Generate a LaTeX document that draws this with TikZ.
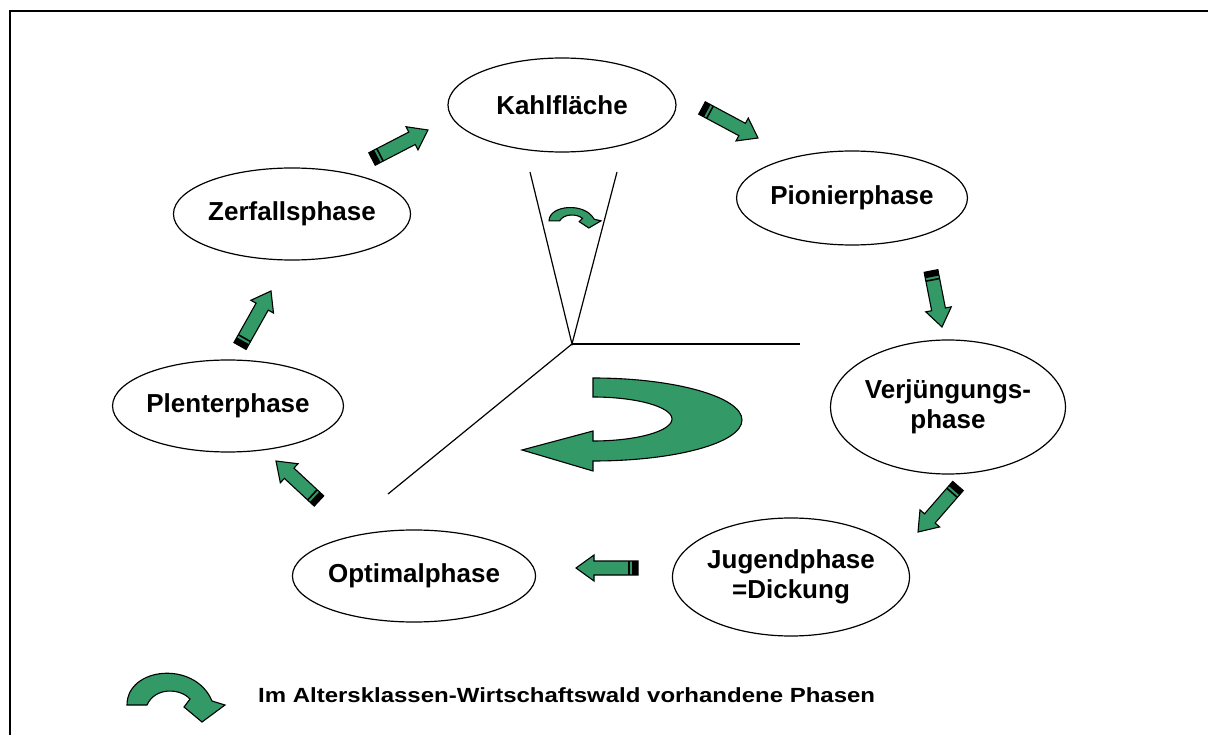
\documentclass[tikz,border=0pt]{standalone}
\usepackage{fontspec}
\setmainfont{Liberation Sans}
\usepackage{graphicx}
\usetikzlibrary{shapes.geometric,calc}
\definecolor{waldgruen}{RGB}{51,153,102}

\begin{document}
\begin{tikzpicture}[
    x=1pt, y=-1pt,
    phase/.style={ellipse, draw, line width=1.2pt, fill=white, inner sep=0pt, align=center, font=\bfseries\fontsize{26}{30}\selectfont},
    pfeilgruen/.style={fill=waldgruen, draw=black, line width=1.1pt, line join=miter},
    linie/.style={draw=black, line width=1.2pt},
    legende/.style={anchor=west, inner sep=0pt, font=\bfseries\fontsize{20.5}{24}\selectfont},
    wendepfeil/.pic={
      \path[pfeilgruen] (2,33) .. controls (2,-5) and (70,-12) .. (87,29) -- (100,33) -- (77,50) -- (59,35)
        -- (65,27) .. controls (55,16) and (30,15) .. (22,33) -- cycle;
    }
  ]
    % Rahmen
    \useasboundingbox (0,0) rectangle (1208,735);
    \clip (0,0) rectangle (1208,735);
    \draw[line width=1.6pt] (10,760) -- (10,11) -- (1230,11);

    % Linien
    \coordinate (mitte) at (572,344);
    \coordinate (keil-l) at (530,172);
    \coordinate (keil-r) at (617,172);
    \coordinate (ost) at (800,344);
    \coordinate (suedwest) at (388,494);
    \draw[linie] (keil-l) -- (mitte) -- (keil-r);
    \draw[linie] (mitte) -- (ost);
    \draw[linie] (mitte) -- (suedwest);

    % Phasen
    \node[phase, minimum width=228pt, minimum height=94pt] (kahl) at (562,105) {Kahlfläche};
    \node[phase, minimum width=227pt, minimum height=94pt] (pionier) at (852,198) {Pionierphase};
    \node[phase, minimum width=227pt, minimum height=92pt] (zerfall) at (292,214) {Zerfallsphase};
    \node[phase, minimum width=222pt, minimum height=134pt] (verjuengung) at (948,407) {Verjüngungs-\\phase};
    \node[phase, minimum width=224pt, minimum height=92pt] (plenter) at (228,406) {Plenterphase};
    \node[phase, minimum width=228pt, minimum height=118pt] (jugend) at (791,577) {Jugendphase\\=Dickung};
    \node[phase, minimum width=223pt, minimum height=92pt] (optimal) at (414,576) {Optimalphase};

    % Pfeile zwischen den Phasen
    \coordinate (zk1) at (372,159); \coordinate (zk2) at (428,130);
    \coordinate (kp1) at (702,108); \coordinate (kp2) at (758,138);
    \coordinate (pv1) at (931,271); \coordinate (pv2) at (942,327);
    \coordinate (vj1) at (958,486); \coordinate (vj2) at (918,532);
    \coordinate (jo1) at (638,568); \coordinate (jo2) at (576,568);
    \coordinate (op1) at (319,501); \coordinate (op2) at (276,461);
    \coordinate (pz1) at (240,346); \coordinate (pz2) at (271,291);
    \foreach \a/\b in {zk1/zk2, kp1/kp2, pv1/pv2, vj1/vj2, jo1/jo2, op1/op2, pz1/pz2} {
      \path[pfeilgruen] ($(\a)!7pt!90:(\b)$) -- ($(\b)!18pt!(\a)!7pt!-90:(\a)$) -- ($(\b)!18pt!(\a)!13pt!-90:(\a)$)
        -- (\b) -- ($(\b)!18pt!(\a)!13pt!90:(\a)$) -- ($(\b)!18pt!(\a)!7pt!90:(\a)$) -- ($(\a)!7pt!-90:(\b)$) -- cycle;
      \fill ($(\a)!7pt!90:(\b)$) -- ($(\a)!6pt!(\b)!7pt!90:(\b)$) -- ($(\a)!6pt!(\b)!7pt!-90:(\b)$) -- ($(\a)!7pt!-90:(\b)$) -- cycle;
      \draw[line width=1.6pt] ($(\a)!9pt!(\b)!7pt!90:(\b)$) -- ($(\a)!9pt!(\b)!7pt!-90:(\b)$);
    }

    % grosser Wendepfeil
    \path[pfeilgruen] (593,378) .. controls (675,378) and (742,397) .. (742,420)
      .. controls (742,443) and (675,461) .. (593,461) -- (593,471) -- (522,450) -- (593,431) -- (593,441)
      .. controls (637,441) and (672,431) .. (672,419) .. controls (672,407) and (637,397) .. (593,397) -- cycle;

    % kleiner Wendepfeil im Keil
    \pic[xscale=0.53, yscale=0.42] at (548,207) {wendepfeil};

    % Legende
    \pic at (125,672) {wendepfeil};
    \node[legende] (legtext) at (258,695) {\scalebox{1.17}[1]{Im Altersklassen-Wirtschaftswald vorhandene Phasen}};
\end{tikzpicture}
\end{document}
